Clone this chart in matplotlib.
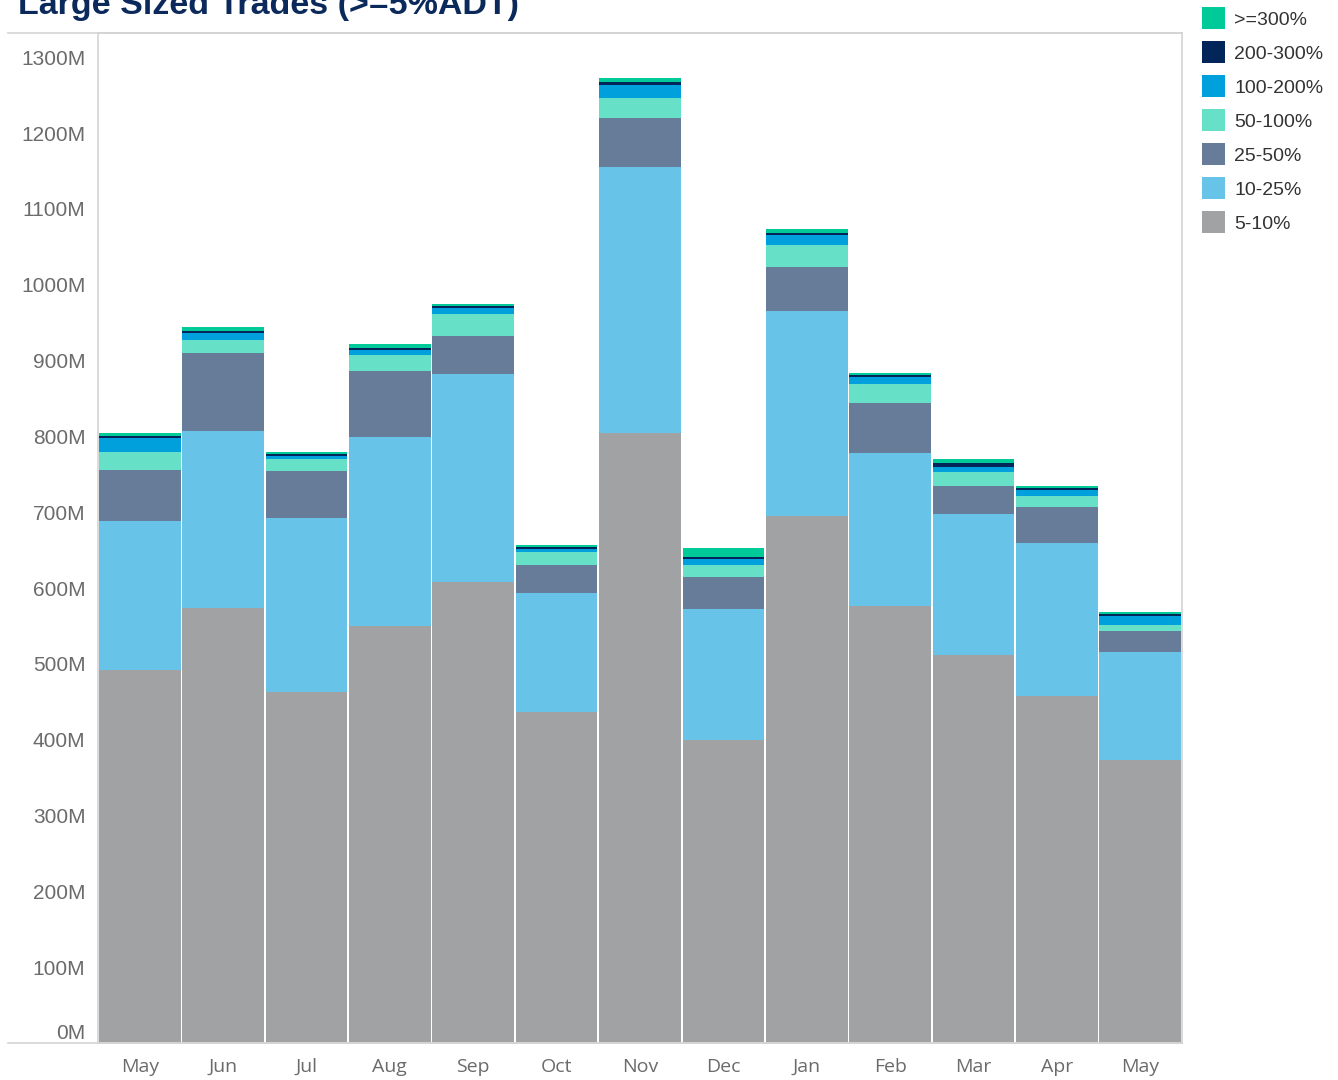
import matplotlib
matplotlib.use("Agg")
import matplotlib.pyplot as plt
import numpy as np
from matplotlib.lines import Line2D
from matplotlib.patches import Rectangle

# monthly volume of large trades, split by trade size as % of ADT (millions)
months = ["May", "Jun", "Jul", "Aug", "Sep", "Oct", "Nov", "Dec", "Jan", "Feb", "Mar", "Apr", "May"]
pct_5_10 = [492, 574, 463, 550, 608, 437, 804, 400, 695, 576, 512, 458, 373]
pct_10_25 = [197, 233, 230, 249, 274, 157, 351, 173, 270, 202, 186, 202, 142]
pct_25_50 = [67, 103, 61, 87, 51, 37, 65, 42, 58, 66, 37, 47, 29]
pct_50_100 = [24, 17, 16, 21, 29, 17, 26, 16, 29, 25, 18, 15, 7]
pct_100_200 = [18, 9, 4, 7, 7, 3, 18, 7, 13, 9, 7, 7, 12]
pct_200_300 = [3, 3, 3, 3, 3, 3, 3, 3, 3, 3, 5, 3, 3]
pct_300_plus = [3, 5, 3, 5, 3, 3, 5, 12, 5, 3, 5, 3, 3]

series = [
    ("5-10%", pct_5_10, "#A1A2A4"),
    ("10-25%", pct_10_25, "#68C3E8"),
    ("25-50%", pct_25_50, "#677C98"),
    ("50-100%", pct_50_100, "#66E0C6"),
    ("100-200%", pct_100_200, "#00A0DC"),
    ("200-300%", pct_200_300, "#03265A"),
    (">=300%", pct_300_plus, "#00CA98"),
]

fig = plt.figure(figsize=(13.38, 10.8), dpi=100)
ax = fig.add_axes([98 / 1338, 1 - 1043 / 1080, (1182 - 98) / 1338, (1043 - 33) / 1080])

x = np.arange(len(months))
bottom = np.zeros(len(months))
for name, vals, color in series:
    ax.bar(x, vals, width=0.98, bottom=bottom, color=color,
           edgecolor="none", linewidth=0)
    bottom += np.array(vals)

ax.set_xlim(-0.5, len(months) - 0.5)
ax.set_ylim(0, 1332)

yticks = np.arange(0, 1301, 100)
ax.set_yticks(yticks)
ax.set_yticklabels([f"{int(v)}M" for v in yticks], fontsize=15,
                   color="#6b6b6b", family="Liberation Sans")
ax.get_yticklabels()[0].set_verticalalignment("bottom")
ax.set_xticks(x)
ax.set_xticklabels(months, fontsize=14, color="#6b6b6b", family="Open Sans")
ax.tick_params(axis="y", length=0, pad=9)
ax.tick_params(axis="x", length=0, pad=11)

for s in ax.spines.values():
    s.set_color("#d4d4d4")
    s.set_linewidth(1.2)

# header/footer rules run across the label column as well
for yy in (1 - 33 / 1080, 1 - 1043 / 1080):
    fig.add_artist(Line2D([8 / 1338, 1182 / 1338], [yy, yy],
                          color="#d4d4d4", linewidth=1.2))

fig.text(18 / 1338, 1 - 14 / 1080, "Large Sized Trades (>=5%ADT)",
         fontsize=24.5, fontweight="bold", color="#0B2A5B",
         family="Liberation Sans", va="baseline", ha="left")

# legend, top-down from the largest size bucket
for i, (name, vals, color) in enumerate(reversed(series)):
    yc = 18 + 34 * i
    fig.add_artist(Rectangle((1202 / 1338, 1 - (yc + 11) / 1080), 23 / 1338, 22 / 1080,
                             facecolor=color, edgecolor="none",
                             transform=fig.transFigure))
    fig.text(1234 / 1338, 1 - (yc + 2.5) / 1080, name, fontsize=14, color="#333333",
             family="Liberation Sans", va="center", ha="left")

fig.savefig("out.png", dpi=100)
